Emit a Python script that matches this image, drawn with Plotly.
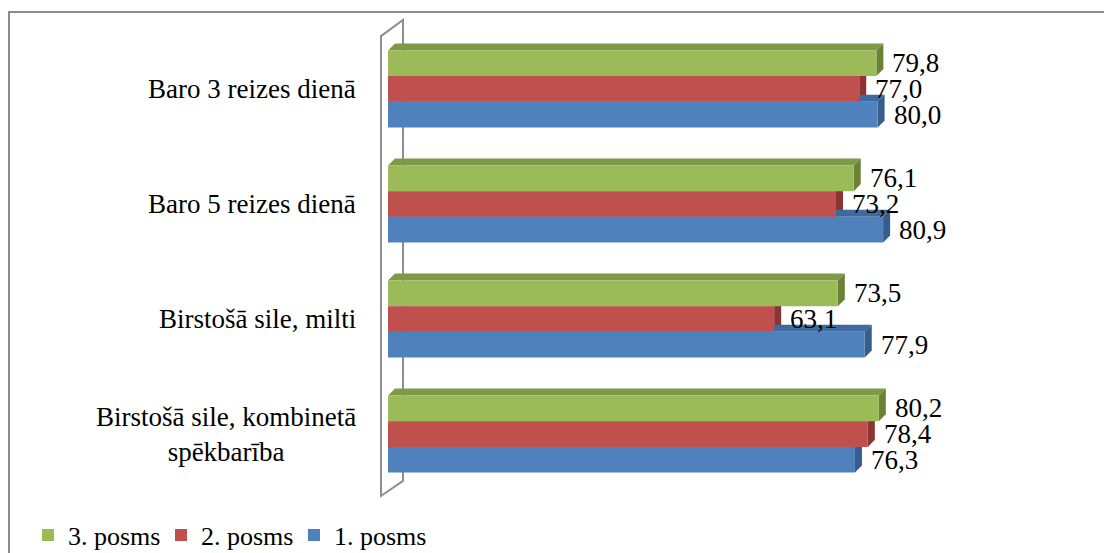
import plotly.graph_objects as go

# ---- data ----
categories = ["Baro 3 reizes dienā", "Baro 5 reizes dienā", "Birstošā sile, milti",
              "Birstošā sile, kombinetā<br>spēkbarība"]
series_names = ["3. posms", "2. posms", "1. posms"]
posms3 = [79.8, 76.1, 73.5, 80.2]
posms2 = [77.0, 73.2, 63.1, 78.4]
posms1 = [80.0, 80.9, 77.9, 76.3]

# ---- styling ----
# the photographed viewport is taller than the final picture; compensate vertically
VH = 571
SC = 553 / VH


def fy(ty):  # reference-picture y -> figure pixel y
    return ty / SC


W, H = 1104, VH
ML, MT = 376, fy(16)
MR = W - 1090
MB = H - fy(496)
PW, PH = W - ML - MR, H - MT - MB
X0PX = 388            # pixel where value 0 sits
SX = 6.12             # px per unit on x
SY = 114.33 / SC      # px per category step
CY0 = fy(87.5)        # pixel center of first category
xr = [(ML - X0PX) / SX, (W - MR - X0PX) / SX]
ncat = len(categories)
yr = [-((MT + PH) - (CY0 + SY * (ncat - 1))) / SY, (ncat - 1) + (CY0 - MT) / SY]

front = ["#9BBB59", "#C0504D", "#4F81BD"]
top_c = ["#7F9A47", "#A3403D", "#3F6A9E"]
side_c = ["#6A8236", "#8A3533", "#375D8C"]
FONT = "Liberation Serif, Times New Roman, serif"
FS = 27

bw = fy(25.5) / SY
dxd, dyd = 7 / SX, fy(7) / SY
values = [posms3, posms2, posms1]
offsets = [bw, 0, -bw]
ycat = [ncat - 1 - i for i in range(ncat)]

fig = go.Figure()
shapes = []
annotations = []


def px2paper_x(px):
    return (px - ML) / PW


def px2paper_y(ty):
    return (MT + PH - fy(ty)) / PH

# outer border (left and top edges; the rest lies outside the picture)
border = [(9, 553), (9, 11), (W, 11)]
shapes.append(dict(type="path", xref="paper", yref="paper",
                   path="M " + " L ".join(f"{px2paper_x(a)},{px2paper_y(b)}" for a, b in border),
                   line=dict(color="#8C8C8C", width=2), layer="below"))
# back wall (3D decoration)
wall = [(381, 492), (381, 35), (403, 19), (403, 477)]
path = "M " + " L ".join(f"{px2paper_x(a)},{px2paper_y(b)}" for a, b in wall) + " Z"
shapes.append(dict(type="path", xref="paper", yref="paper", path=path,
                   line=dict(color="#8E8E8E", width=2), fillcolor="white", layer="below"))

for si in range(3):
    vals = values[si]
    yc = [y + offsets[si] for y in ycat]
    fig.add_trace(go.Bar(x=vals, y=yc, orientation="h", width=bw, name=series_names[si],
                         marker=dict(color=front[si], line=dict(width=0)), hoverinfo="x+name"))
    for v, c in zip(vals, yc):
        yt, yb = c + bw / 2, c - bw / 2
        shapes.append(dict(type="path", xref="x", yref="y", layer="below", line=dict(width=0),
                           fillcolor=top_c[si],
                           path=f"M 0,{yt} L {dxd},{yt+dyd} L {v+dxd},{yt+dyd} L {v},{yt} Z"))
        shapes.append(dict(type="path", xref="x", yref="y", layer="below", line=dict(width=0),
                           fillcolor=side_c[si],
                           path=f"M {v},{yt} L {v+dxd},{yt+dyd} L {v+dxd},{yb+dyd} L {v},{yb} Z"))
        annotations.append(dict(x=v, y=c, xref="x", yref="y", xanchor="left", yanchor="middle",
                                xshift=14, showarrow=False, text=f"{v:.1f}".replace(".", ","),
                                font=dict(family=FONT, size=FS, color="black")))

for cat, y in zip(categories, ycat):
    annotations.append(dict(x=px2paper_x(358), y=y, xref="paper", yref="y", xanchor="right",
                            yanchor="middle", align="center", showarrow=False, text=cat,
                            font=dict(family=FONT, size=FS, color="black")))

fig.update_layout(
    width=W, height=H, margin=dict(l=ML, r=MR, t=MT, b=MB),
    paper_bgcolor="white", plot_bgcolor="white",
    xaxis=dict(range=xr, visible=False, fixedrange=True),
    yaxis=dict(range=yr, visible=False, fixedrange=True),
    barmode="overlay", shapes=shapes, annotations=annotations,
    showlegend=True,
    legend=dict(orientation="h", x=px2paper_x(28), xanchor="left", y=px2paper_y(531), yanchor="middle",
                font=dict(family=FONT, size=26, color="black"), traceorder="normal",
                entrywidth=88, entrywidthmode="pixels", bgcolor="rgba(0,0,0,0)"),
)
fig.write_html("out.html", config={"displayModeBar": False},
               post_script="document.body.style.margin='0';document.body.style.overflow='hidden';"
                           "document.documentElement.style.overflow='hidden';")
